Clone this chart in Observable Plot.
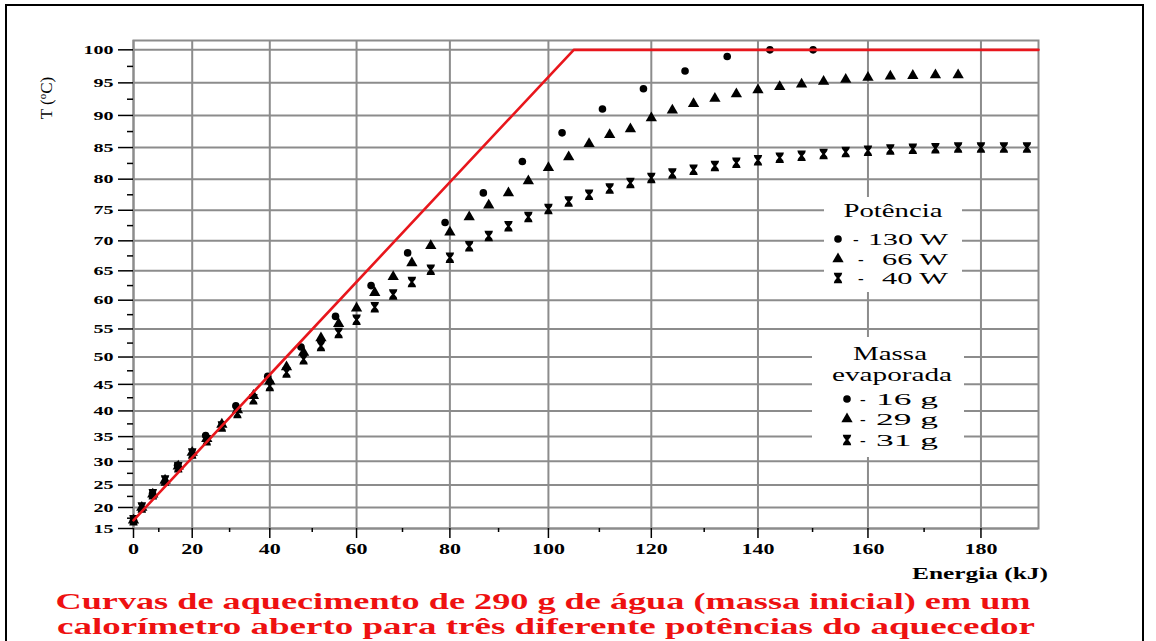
<!DOCTYPE html>
<html>
<head>
<meta charset="utf-8">
<script src="https://cdn.jsdelivr.net/npm/d3@7"></script>
<script src="https://cdn.jsdelivr.net/npm/@observablehq/plot@0.6"></script>
<style>
  body { margin: 0; background: #fff; }
  #fig { position: relative; width: 1156px; height: 641px; overflow: hidden; }
  #fig svg { display: block; }
</style>
</head>
<body>
<div id="fig"></div>
<script>
// Heating of 290 g of water in an open calorimeter: temperature vs. energy supplied
const energy130 = [0, 7.9, 15.8, 23.7, 31.6, 39.5, 47.4, 55.3, 63.2, 71.1, 79, 86.9, 94.8, 102.7, 110.6, 118.5, 126.4, 134.3, 142.2, 150.1];
const temp130   = [17, 23.1, 29.2, 35.2, 41, 46.5, 51.8, 57.2, 62.5, 68, 73, 77.8, 82.8, 87.3, 91, 94.1, 96.8, 99, 100, 100];

const energy66 = [0, 4, 8, 12, 16, 20, 24, 28, 32, 36, 40, 44, 48, 52, 56, 60, 64, 68, 72, 76, 80, 84, 88, 92, 96, 100,
                  104, 108, 112, 116, 120, 124, 128, 132, 136, 140, 144, 148, 152, 156, 160, 164, 168, 172, 176];
const temp66   = [17, 20, 23, 26, 29, 31.8, 34.6, 37.4, 40.2, 42.9, 45.6, 48.2, 50.8, 53.4, 55.9, 58.6, 61.3, 64, 66.3, 69.2,
                  71.4, 73.9, 75.8, 77.8, 79.7, 81.8, 83.5, 85.6, 87, 87.9, 89.6, 90.8, 91.8, 92.6, 93.3, 93.9, 94.4, 94.8,
                  95.2, 95.5, 95.8, 96, 96.1, 96.2, 96.2];

const energy40 = [0, 4, 8, 12, 16, 20, 24, 28, 32, 36, 40, 44, 48, 52, 56, 60, 64, 68, 72, 76, 80, 84, 88, 92, 96, 100,
                  104, 108, 112, 116, 120, 124, 128, 132, 136, 140, 144, 148, 152, 156, 160, 164, 168, 172, 176, 180, 184, 188];
const temp40   = [17, 20, 23, 26, 28.8, 31.6, 34.3, 37, 39.6, 42.2, 44.7, 47.2, 49.6, 52, 54.3, 56.6, 58.8, 61, 63.1, 65.2,
                  67.2, 69.1, 70.8, 72.4, 73.9, 75.2, 76.4, 77.5, 78.5, 79.4, 80.2, 80.9, 81.5, 82.1, 82.6, 83, 83.4, 83.7,
                  84, 84.3, 84.5, 84.7, 84.8, 84.9, 85, 85, 85, 85];

// Ideal heating line (no losses) up to the boiling point
const idealEnergy = [0, 105, 190];
const idealTemp   = [17, 100, 100];

const xTicks = [0, 20, 40, 60, 80, 100, 120, 140, 160, 180];
const xMinor = [10, 30, 50, 70, 90, 110, 130, 150, 170];
const yTicks = [15, 20, 25, 30, 35, 40, 45, 50, 55, 60, 65, 70, 75, 80, 85, 90, 95, 100];
const yMinor = [17.5, 22.5, 27.5, 32.5, 37.5, 42.5, 47.5, 52.5, 57.5, 62.5, 67.5, 72.5, 77.5, 82.5, 87.5, 92.5, 97.5];

const legendPower = ["130 W", "66 W", "40 W"];
const legendMass  = ["16 g", "29 g", "31 g"];
const captionLines = [
  "Curvas de aquecimento de 290 g de água (massa inicial) em um",
  "calorímetro aberto para três diferente potências do aquecedor"
];

const rows = (es, ts) => es.map((e, i) => ({energy: e, temp: ts[i]}));
const data130 = rows(energy130, temp130);
const data66 = rows(energy66, temp66);
const data40 = rows(energy40, temp40);
const ideal = rows(idealEnergy, idealTemp);

// Filled hourglass marker (point with capped bars)
const hourglass = {
  draw(context, size) {
    const r = Math.sqrt(size / Math.PI);
    const w = r * 1.0, h = r * 1.25;
    context.moveTo(-w, -h);
    context.lineTo(w, -h);
    context.lineTo(w * 0.85, -h * 0.55);
    context.lineTo(w * 0.3, 0);
    context.lineTo(w * 0.85, h * 0.55);
    context.lineTo(w, h);
    context.lineTo(-w, h);
    context.lineTo(-w * 0.85, h * 0.55);
    context.lineTo(-w * 0.3, 0);
    context.lineTo(-w * 0.85, -h * 0.55);
    context.closePath();
  }
};

const gridColor = "#8c8c8c";
const serif = "'Liberation Serif', 'Times New Roman', serif";

const chart = Plot.plot({
  width: 1156,
  height: 641,
  marginLeft: 133,
  marginRight: 118,
  marginTop: 40,
  marginBottom: 113,
  style: {background: "transparent", fontFamily: serif, color: "#000"},
  x: {type: "pow", exponent: 1.215, domain: [0, 190]},
  y: {type: "pow", exponent: 1.263, domain: [15, 101.4]},
  marks: [
    Plot.gridX(xTicks, {stroke: gridColor, strokeOpacity: 1, strokeWidth: 2}),
    Plot.gridY(yTicks, {stroke: gridColor, strokeOpacity: 1, strokeWidth: 2}),
    Plot.frame({stroke: gridColor, strokeWidth: 2}),
    Plot.axisY(yTicks, {tickSize: 15, tickPadding: 5, fontSize: 13, fontWeight: "bold", strokeWidth: 1.5, label: null}),
    Plot.axisY(yMinor, {tickSize: 6, strokeWidth: 1.5, fill: "none", label: null}),
    Plot.axisX(xTicks, {tickSize: 10, tickPadding: 6, fontSize: 14, fontWeight: "bold", strokeWidth: 1.5, label: null}),
    Plot.axisX(xMinor, {tickSize: 4, strokeWidth: 1.5, fill: "none", label: null}),
    Plot.dot(data40, {x: "energy", y: "temp", r: 4.2, symbol: hourglass, fill: "#000", stroke: "none"}),
    Plot.dot(data66, {x: "energy", y: "temp", r: 4.2, symbol: "triangle", fill: "#000", stroke: "none"}),
    Plot.dot(data130, {x: "energy", y: "temp", r: 3.8, symbol: "circle", fill: "#000", stroke: "none"}),
    Plot.line(ideal, {x: "energy", y: "temp", stroke: "#e8161c", strokeWidth: 2.6})
  ]
});

document.getElementById("fig").appendChild(chart);
const svg = d3.select(chart);

// Widen tick labels the way the printed figure sets its type
svg.selectAll('g[aria-label="y-axis tick label"] text').each(function () {
  this.setAttribute("textLength", this.textContent.length * 10);
  this.setAttribute("lengthAdjust", "spacingAndGlyphs");
});
svg.selectAll('g[aria-label="x-axis tick label"] text').each(function () {
  this.setAttribute("textLength", this.textContent.length * 11);
  this.setAttribute("lengthAdjust", "spacingAndGlyphs");
});

function label(g, {x, y, text, size, weight = "normal", fill = "#000", len, anchor = "start"}) {
  const el = g.append("text")
    .attr("transform", `translate(${x},${y})`)
    .attr("font-family", serif)
    .attr("font-size", size)
    .attr("font-weight", weight)
    .attr("fill", fill)
    .attr("text-anchor", anchor)
    .text(text);
  if (len) el.attr("textLength", len).attr("lengthAdjust", "spacingAndGlyphs");
  return el;
}

const overlay = svg.append("g");

// Axis titles
const yTitle = overlay.append("text")
  .attr("transform", "translate(52,98) rotate(-90)")
  .attr("font-family", serif)
  .attr("font-size", 17);
yTitle.append("tspan").text("T (");
yTitle.append("tspan").attr("font-size", 11).attr("dy", -6).text("o");
yTitle.append("tspan").attr("dy", 6).text("C)");

label(overlay, {x: 912, y: 579, text: "Energia (kJ)", size: 16, weight: "bold", len: 136});

// Legend blocks with white backgrounds
overlay.append("rect").attr("x", 824).attr("y", 197).attr("width", 138).attr("height", 95).attr("fill", "#fff");
overlay.append("rect").attr("x", 812).attr("y", 337).attr("width", 152).attr("height", 120).attr("fill", "#fff");

const symbolCircle = d3.symbol(d3.symbolCircle, Math.PI * 3.8 * 3.8);
const symbolTriangle = d3.symbol(d3.symbolTriangle, Math.PI * 4.2 * 4.2);
const symbolHour = d3.symbol(hourglass, Math.PI * 4.2 * 4.2);
const legendSymbols = [symbolCircle, symbolTriangle, symbolHour];

label(overlay, {x: 893, y: 217, text: "Potência", size: 18, len: 99, anchor: "middle"});
legendPower.forEach((s, i) => {
  const cy = [239, 259, 278][i];
  overlay.append("path").attr("d", legendSymbols[i]()).attr("transform", `translate(838,${cy})`).attr("fill", "#000");
  label(overlay, {x: i === 0 ? 853 : 858, y: cy + 6, text: "-", size: 17});
  label(overlay, {x: 948, y: cy + 6, text: s, size: 17, anchor: "end", len: i === 0 ? 80 : 66});
});

label(overlay, {x: 890, y: 360, text: "Massa", size: 18, len: 74, anchor: "middle"});
label(overlay, {x: 892, y: 381, text: "evaporada", size: 18, len: 120, anchor: "middle"});
legendMass.forEach((s, i) => {
  const cy = [399, 419, 440][i];
  overlay.append("path").attr("d", legendSymbols[i]()).attr("transform", `translate(847,${cy})`).attr("fill", "#000");
  label(overlay, {x: 860, y: cy + 6, text: "-", size: 17});
  label(overlay, {x: 938, y: cy + 6, text: s, size: 17, anchor: "end", len: 62});
});

// Two-line caption
const caption = overlay.append("text")
  .attr("font-family", serif)
  .attr("font-size", 22.5)
  .attr("font-weight", "bold")
  .attr("fill", "#ee1111")
  .attr("text-anchor", "middle");
caption.append("tspan").attr("x", 543).attr("y", 609)
  .attr("textLength", 975).attr("lengthAdjust", "spacingAndGlyphs").text(captionLines[0]);
caption.append("tspan").attr("x", 546).attr("y", 634)
  .attr("textLength", 978).attr("lengthAdjust", "spacingAndGlyphs").text(captionLines[1]);

// Outer figure frame
overlay.append("path")
  .attr("d", "M6,641 V5 H1143 V641")
  .attr("fill", "none")
  .attr("stroke", "#000")
  .attr("stroke-width", 2);
</script>
</body>
</html>
